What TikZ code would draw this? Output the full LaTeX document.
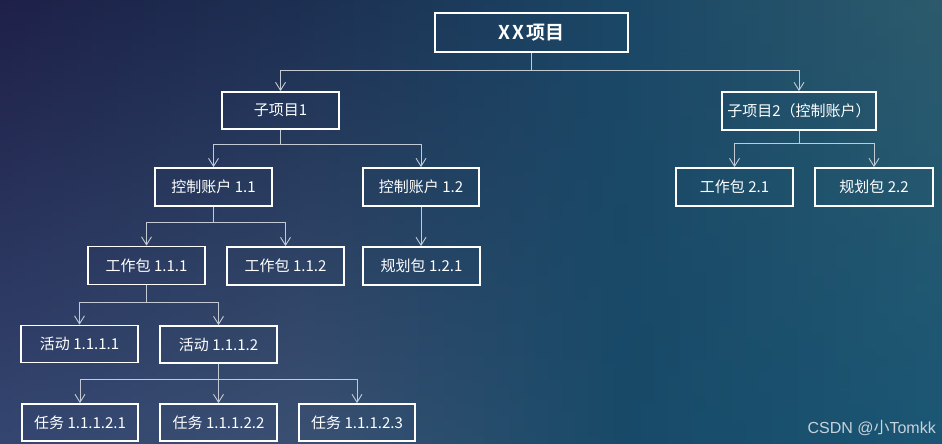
\documentclass[tikz,border=0pt]{standalone}
\usepackage{fontspec}
\setmainfont{Noto Sans CJK SC}
\newfontfamily\cjkbold{Noto Sans CJK SC Bold}
\newfontfamily\wmfont{Liberation Sans}
\usetikzlibrary{arrows.meta}
\definecolor{connc}{HTML}{C4CAD4}
\definecolor{wmark}{HTML}{C8D2DA}
\definecolor{tA}{HTML}{1E2048}
\definecolor{tB}{HTML}{1C3052}
\definecolor{tC}{HTML}{1B4766}
\definecolor{tD}{HTML}{2C5A6C}
\definecolor{bA}{HTML}{344670}
\definecolor{bB}{HTML}{3A5072}
\definecolor{bC}{HTML}{174A68}
\definecolor{bD}{HTML}{1A5674}
\newcommand\bgseg[6]{%
  \foreach \i in {0,...,23}{%
    \pgfmathtruncatemacro\p{round((\i+0.5)/24*100)}%
    \pgfmathsetmacro\xa{#1+(#2-#1)*\i/24}%
    \pgfmathsetmacro\xb{#1+(#2-#1)*(\i+1)/24+0.7}%
    \colorlet{tcol}{#4!\p!#3}%
    \colorlet{bcol}{#6!\p!#5}%
    \shade[top color=tcol, bottom color=bcol] (\xa,0) rectangle (\xb,444);
  }}
\tikzset{
  box/.style={draw=white, line width=1.8pt, minimum height=38pt, inner sep=0pt,
    text=white, font=\fontsize{15pt}{18pt}\selectfont},
  arr/.style={draw=connc, line width=0.9pt, -{Straight Barb[length=8pt,width=10pt,line width=0.9pt]}}
}
\begin{document}
\begin{tikzpicture}[x=1pt,y=-1pt]
\useasboundingbox (0,0) rectangle (942,444);
% background
\bgseg{0}{314}{tA}{tB}{bA}{bB}
\bgseg{314}{628}{tB}{tC}{bB}{bC}
\bgseg{628}{942}{tC}{tD}{bC}{bD}

% nodes
\node[box, minimum width=193pt, minimum height=39pt] (top) at (531.5,32.5)
  {\cjkbold\fontsize{19pt}{22pt}\selectfont X\hspace{3pt}X\hspace{2pt}项目};
\node[box, minimum width=117pt, minimum height=37pt] (s1) at (280.5,110.5) {子项目1};
\node[box, minimum width=154pt] (s2) at (799,111) {子项目2（控制账户）};
\node[box, minimum width=117pt] (c11) at (213.5,187) {控制账户 1.1};
\node[box, minimum width=116pt] (c12) at (421,187) {控制账户 1.2};
\node[box, minimum width=117pt] (w111) at (146.5,265.5) {工作包 1.1.1};
\node[box, minimum width=117pt] (w112) at (285.5,266) {工作包 1.1.2};
\node[box, minimum width=117pt] (p121) at (421.5,266) {规划包 1.2.1};
\node[box, minimum width=117pt, minimum height=37pt] (a1) at (79.5,344) {活动 1.1.1.1};
\node[box, minimum width=117pt, minimum height=37pt] (a2) at (218.5,344.5) {活动 1.1.1.2};
\node[box, minimum width=116pt, minimum height=37pt] (t1) at (80,422.5) {任务 1.1.1.2.1};
\node[box, minimum width=117pt, minimum height=37pt] (t2) at (218.5,422.5) {任务 1.1.1.2.2};
\node[box, minimum width=116pt, minimum height=37pt] (t3) at (357,422.5) {任务 1.1.1.2.3};
\node[box, minimum width=117pt] (w21) at (734.5,187) {工作包 2.1};
\node[box, minimum width=118pt] (p22) at (874,187) {规划包 2.2};

% connectors
\draw[arr] (top.south) -- ++(0,17.5) -| (s1.north);
\draw[arr] (top.south) -- ++(0,17.5) -| (s2.north);
\draw[arr] (s1.south) -- ++(0,15) -| (c11.north);
\draw[arr] (s1.south) -- ++(0,15) -| (c12.north);
\draw[arr] (c11.south) -- ++(0,16) -| (w111.north);
\draw[arr] (c11.south) -- ++(0,16) -| (w112.north);
\draw[arr] (c12.south) -- (c12.south |- p121.north);
\draw[arr] (w111.south) -- ++(0,17.5) -| (a1.north);
\draw[arr] (w111.south) -- ++(0,17.5) -| (a2.north);
\draw[arr] (a2.south) -- ++(0,16) -| (t1.north);
\draw[arr] (a2.south) -- (t2.north);
\draw[arr] (a2.south) -- ++(0,16) -| (t3.north);
\draw[arr] (s2.south) -- ++(0,13) -| (w21.north);
\draw[arr] (s2.south) -- ++(0,13) -| (p22.north);

% watermark
\node[anchor=east, text=wmark, inner sep=0pt, font=\fontsize{16pt}{19pt}\selectfont] (wm) at (936,428) {\wmfont CSDN @\normalfont 小\wmfont Tomkk};
\end{tikzpicture}
\end{document}
